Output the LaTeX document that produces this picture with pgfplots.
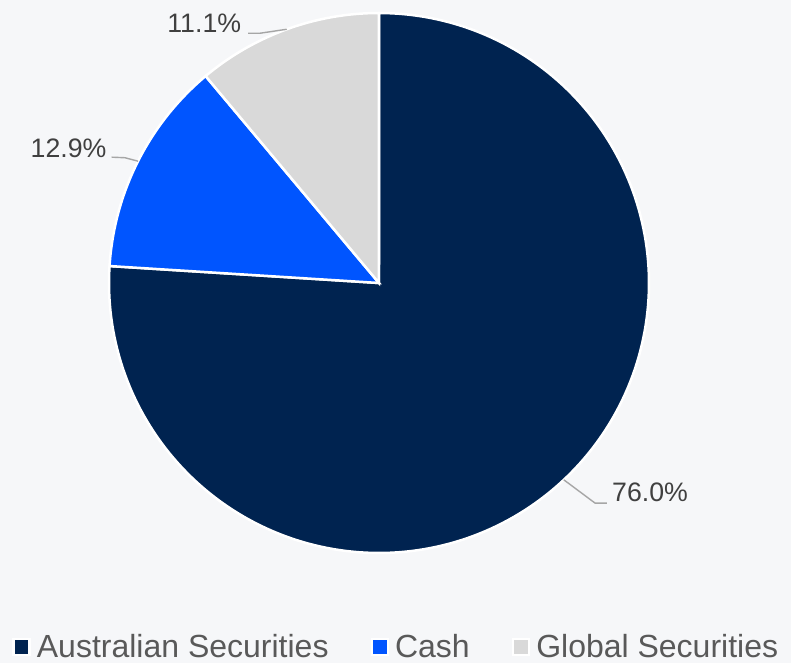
\documentclass[border=0pt]{standalone}
\usepackage{fontspec}
\setmainfont{Liberation Sans}
\usepackage{pgfplots}
\pgfplotsset{compat=1.18}
\definecolor{bg}{HTML}{F6F7F9}
\definecolor{navy}{HTML}{002350}
\definecolor{cashblue}{HTML}{0055FF}
\definecolor{globgray}{HTML}{D9D9D9}
\definecolor{labelgray}{HTML}{404040}
\definecolor{leggray}{HTML}{595959}
\definecolor{linegray}{HTML}{A6A6A6}
% data (percent)
\def\vAus{76.0}
\def\vCash{12.9}
\def\vGlob{11.1}
\pgfmathsetmacro{\aA}{90}
\pgfmathsetmacro{\aB}{90-3.6*\vAus}
\pgfmathsetmacro{\aBw}{\aB+360}
\pgfmathsetmacro{\aC}{\aBw-3.6*\vCash}
\pgfmathsetmacro{\aD}{\aC-3.6*\vGlob}
\pgfmathsetmacro{\mA}{(\aA+\aB)/2}
\pgfmathsetmacro{\mB}{(\aBw+\aC)/2}
\pgfmathsetmacro{\mC}{(\aC+\aD)/2}
\begin{document}
\begin{tikzpicture}
\useasboundingbox[fill=bg] (-379bp,-380bp) rectangle (412bp,283bp);
\begin{axis}[
  at={(0,0)}, anchor=origin,
  hide axis, scale only axis, clip=false,
  width=540bp, height=540bp,
  xmin=-1, xmax=1, ymin=-1, ymax=1,
  legend columns=3,
  legend style={at={(0.532,-0.174)}, anchor=center, draw=none, fill=none,
    font=\fontsize{32bp}{38bp}\selectfont, text=leggray,
    /tikz/every odd column/.append style={column sep=4bp},
    /tikz/every even column/.append style={column sep=40bp}},
  legend image code/.code={\draw[#1, draw=white, line width=2.5bp] (0bp,-8bp) rectangle (16bp,8bp);},
]
\addplot[fill=navy, draw=white, line width=2.5bp, domain=\aB:\aA, samples=200]
  ({cos(x)},{sin(x)}) -- (axis cs:0,0) -- cycle;
\addlegendentry{Australian Securities}
\addplot[fill=cashblue, draw=white, line width=2.5bp, domain=\aC:\aBw, samples=60]
  ({cos(x)},{sin(x)}) -- (axis cs:0,0) -- cycle;
\addlegendentry{Cash}
\addplot[fill=globgray, draw=white, line width=2.5bp, domain=\aD:\aC, samples=60]
  ({cos(x)},{sin(x)}) -- (axis cs:0,0) -- cycle;
\addlegendentry{Global Securities}

% leader lines and labels
\draw[linegray, line width=1.4bp] (axis cs:{cos(\mA)},{sin(\mA)}) -- (axis cs:0.8,-0.815) -- (axis cs:0.844,-0.815);
\node[anchor=base west, inner sep=0, text=labelgray, font=\fontsize{26.7bp}{32bp}\selectfont] at (axis cs:0.863,-0.811) {\vAus\%};
\draw[linegray, line width=1.4bp] (axis cs:{cos(\mB)},{sin(\mB)}) -- (axis cs:-0.941,0.464) -- (axis cs:-0.990,0.466);
\node[anchor=base east, inner sep=0, text=labelgray, font=\fontsize{26.7bp}{32bp}\selectfont] at (axis cs:-1.009,0.464) {\vCash\%};
\draw[linegray, line width=1.4bp] (axis cs:{cos(\mC)},{sin(\mC)}) -- (axis cs:-0.441,0.925) -- (axis cs:-0.485,0.925);
\node[anchor=base east, inner sep=0, text=labelgray, font=\fontsize{26.7bp}{32bp}\selectfont] at (axis cs:-0.51,0.928) {\vGlob\%};
\end{axis}
\end{tikzpicture}
\end{document}
